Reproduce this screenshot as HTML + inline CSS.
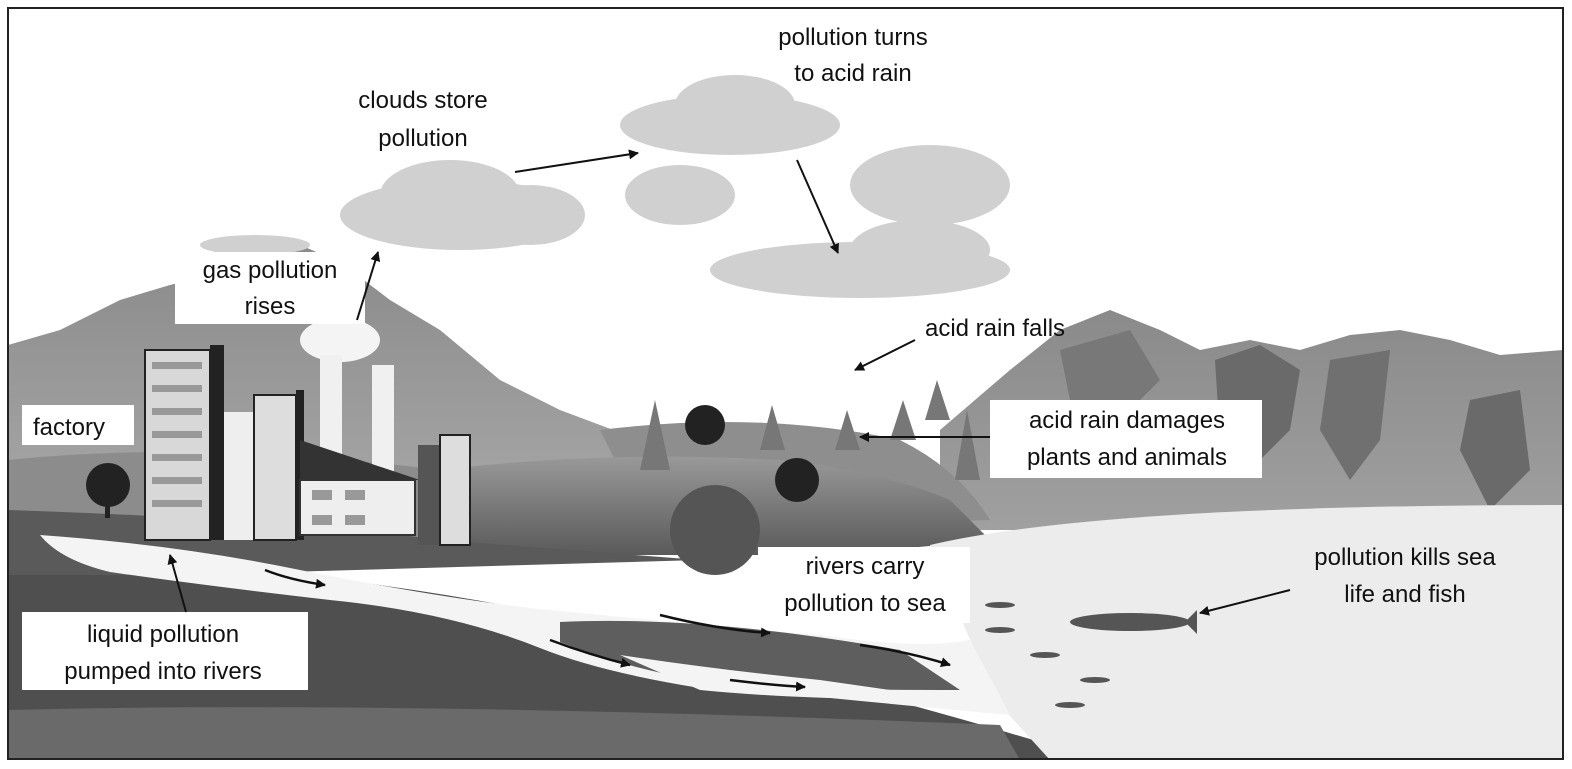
<!DOCTYPE html>
<html><head><meta charset="utf-8"><style>
html,body{margin:0;padding:0;background:#fff}
svg{display:block}
text{font-family:"Liberation Sans",Arial,sans-serif;font-size:24px;fill:#111}
</style></head><body>
<svg width="1572" height="769" viewBox="0 0 1572 769">
<defs>
<marker id="a" markerWidth="10" markerHeight="10" refX="9" refY="5" orient="auto" markerUnits="userSpaceOnUse"><path d="M0,0 L10,5 L0,10 z" fill="#111"/></marker>
<linearGradient id="mL" x1="0" y1="0" x2="0" y2="1"><stop offset="0" stop-color="#8a8a8a"/><stop offset="1" stop-color="#a8a8a8"/></linearGradient>
<linearGradient id="mR" x1="0" y1="0" x2="0" y2="1"><stop offset="0" stop-color="#8a8a8a"/><stop offset="1" stop-color="#a0a0a0"/></linearGradient>
<linearGradient id="hl" x1="0" y1="0" x2="0" y2="1"><stop offset="0" stop-color="#999"/><stop offset="1" stop-color="#5a5a5a"/></linearGradient>
</defs>
<rect x="0" y="0" width="1572" height="769" fill="#fff"/>
<!-- left mountains -->
<path d="M8,345 L60,330 L120,300 L170,285 L230,270 L300,245 L340,262 L390,300 L440,330 L500,380 L560,410 L640,440 L700,460 L700,520 L8,520 Z" fill="url(#mL)"/>
<!-- right mountains -->
<path d="M940,430 L1010,370 L1060,330 L1110,310 L1160,330 L1200,350 L1250,340 L1300,350 L1350,335 L1400,330 L1450,340 L1500,355 L1563,350 L1563,530 L940,530 Z" fill="url(#mR)"/>
<path d="M1215,360 L1260,345 L1300,370 L1290,430 L1250,470 L1220,440 Z" fill="#6a6a6a"/>
<path d="M1330,360 L1390,350 L1380,440 L1350,480 L1320,430 Z" fill="#707070"/>
<path d="M1470,400 L1520,390 L1530,470 L1490,510 L1460,450 Z" fill="#6a6a6a"/>
<path d="M1060,350 L1130,330 L1160,380 L1120,420 L1070,400 Z" fill="#787878"/>
<!-- hills -->
<path d="M8,460 Q200,440 440,470 L440,560 L8,560 Z" fill="#8c8c8c"/>
<path d="M600,430 Q760,410 900,440 Q960,470 990,520 L650,530 Z" fill="#8e8e8e"/>
<path d="M440,470 Q600,450 780,460 Q880,470 950,500 L990,540 Q900,550 800,555 L440,555 Z" fill="url(#hl)"/>
<path d="M8,510 Q300,520 440,540 L700,560 L8,580 Z" fill="#5a5a5a"/>
<!-- ground -->
<path d="M8,575 L300,575 Q520,600 700,650 Q900,700 1050,745 L1050,760 L8,760 Z" fill="#4f4f4f"/>
<path d="M8,710 Q400,700 1000,725 L1020,760 L8,760 Z" fill="#6a6a6a"/>
<!-- sea -->
<path d="M930,545 Q1100,505 1563,505 L1563,760 L1050,760 L1000,705 Q960,620 930,545 Z" fill="#ececec"/>
<!-- river -->
<path d="M40,535 Q180,545 300,570 Q450,600 550,610 Q700,625 820,635 Q920,650 970,640 L1010,715 Q900,705 800,695 L700,688 Q600,672 540,648 Q450,612 330,600 Q200,585 110,572 Q60,560 40,535 Z" fill="#f4f4f4"/>
<path d="M560,622 Q700,615 900,650 L960,690 Q850,690 760,688 Q650,678 560,642 Z" fill="#5e5e5e"/>
<path d="M620,655 Q720,670 820,680 L960,700 Q800,700 700,690 Z" fill="#f4f4f4"/>
<!-- trees -->
<circle cx="108" cy="485" r="22" fill="#222"/><rect x="105" y="500" width="5" height="18" fill="#222"/>
<circle cx="705" cy="425" r="20" fill="#222"/>
<circle cx="797" cy="480" r="22" fill="#222"/>
<ellipse cx="715" cy="530" rx="45" ry="45" fill="#555"/>
<g fill="#777"><path d="M640,470 L655,400 L670,470Z"/><path d="M760,450 L772,405 L785,450Z"/><path d="M835,450 L847,410 L860,450Z"/><path d="M890,440 L903,400 L916,440Z"/><path d="M925,420 L937,380 L950,420Z"/><path d="M955,480 L967,410 L980,480Z"/></g>
<!-- factory -->
<ellipse cx="340" cy="340" rx="40" ry="22" fill="#f4f4f4"/>
<rect x="320" y="355" width="22" height="100" fill="#f0f0f0"/>
<rect x="372" y="365" width="22" height="110" fill="#f0f0f0"/>
<rect x="145" y="350" width="65" height="190" fill="#d8d8d8" stroke="#222" stroke-width="2"/>
<rect x="210" y="345" width="14" height="195" fill="#222"/>
<g fill="#999"><rect x="152" y="362" width="50" height="7"/><rect x="152" y="385" width="50" height="7"/><rect x="152" y="408" width="50" height="7"/><rect x="152" y="431" width="50" height="7"/><rect x="152" y="454" width="50" height="7"/><rect x="152" y="477" width="50" height="7"/><rect x="152" y="500" width="50" height="7"/></g>
<rect x="224" y="412" width="30" height="128" fill="#eee"/>
<rect x="254" y="395" width="42" height="145" fill="#ddd" stroke="#222" stroke-width="2"/>
<rect x="296" y="390" width="8" height="150" fill="#222"/>
<path d="M300,440 L420,480 L300,480 Z" fill="#333"/>
<rect x="300" y="480" width="115" height="55" fill="#eee" stroke="#333" stroke-width="2"/>
<g fill="#999"><rect x="312" y="490" width="20" height="10"/><rect x="345" y="490" width="20" height="10"/><rect x="312" y="515" width="20" height="10"/><rect x="345" y="515" width="20" height="10"/></g>
<rect x="418" y="445" width="22" height="100" fill="#555"/>
<rect x="440" y="435" width="30" height="110" fill="#ddd" stroke="#222" stroke-width="2"/>
<!-- clouds -->
<g fill="#d0d0d0">
<ellipse cx="460" cy="215" rx="120" ry="35"/><ellipse cx="450" cy="195" rx="70" ry="35"/><ellipse cx="530" cy="215" rx="55" ry="30"/>
<ellipse cx="730" cy="125" rx="110" ry="30"/><ellipse cx="735" cy="105" rx="60" ry="30"/>
<ellipse cx="680" cy="195" rx="55" ry="30"/>
<ellipse cx="930" cy="185" rx="80" ry="40"/>
<ellipse cx="860" cy="270" rx="150" ry="28"/><ellipse cx="920" cy="250" rx="70" ry="30"/>
<ellipse cx="255" cy="245" rx="55" ry="10"/>
</g>
<!-- fish -->
<ellipse cx="1130" cy="622" rx="60" ry="9" fill="#555"/>
<path d="M1185,622 L1197,610 L1197,634Z" fill="#555"/>
<g fill="#555"><ellipse cx="1000" cy="605" rx="15" ry="3"/><ellipse cx="1000" cy="630" rx="15" ry="3"/><ellipse cx="1045" cy="655" rx="15" ry="3"/><ellipse cx="1095" cy="680" rx="15" ry="3"/><ellipse cx="1070" cy="705" rx="15" ry="3"/></g>
<!-- river arrows -->
<g stroke="#111" stroke-width="2.5" fill="none" marker-end="url(#a)">
<path d="M265,570 Q290,580 325,585"/><path d="M660,615 Q720,630 770,633"/><path d="M550,640 Q590,655 630,665"/><path d="M860,645 Q910,652 950,665"/><path d="M730,680 Q770,685 805,687"/>
</g>
<!-- label boxes -->
<g fill="#fff">
<rect x="175" y="252" width="190" height="72"/>
<rect x="22" y="405" width="112" height="40"/>
<rect x="990" y="400" width="272" height="78"/>
<rect x="758" y="547" width="212" height="76"/>
<rect x="22" y="612" width="286" height="78"/>
</g>
<!-- arrows -->
<g stroke="#111" stroke-width="2" marker-end="url(#a)">
<line x1="515" y1="172" x2="638" y2="153"/>
<line x1="797" y1="160" x2="838" y2="253"/>
<line x1="357" y1="320" x2="378" y2="252"/>
<line x1="915" y1="340" x2="855" y2="370"/>
<line x1="990" y1="437" x2="860" y2="437"/>
<line x1="1290" y1="590" x2="1200" y2="613"/>
<line x1="186" y1="612" x2="170" y2="555"/>
</g>
<!-- text -->
<g text-anchor="middle">
<text x="423" y="108">clouds store</text><text x="423" y="146">pollution</text>
<text x="853" y="45">pollution turns</text><text x="853" y="81">to acid rain</text>
<text x="270" y="278">gas pollution</text><text x="270" y="314">rises</text>
<text x="995" y="336">acid rain falls</text>
<text x="69" y="435">factory</text>
<text x="1127" y="428">acid rain damages</text><text x="1127" y="465">plants and animals</text>
<text x="865" y="574">rivers carry</text><text x="865" y="611">pollution to sea</text>
<text x="1405" y="565">pollution kills sea</text><text x="1405" y="602">life and fish</text>
<text x="163" y="642">liquid pollution</text><text x="163" y="679">pumped into rivers</text>
</g>
<rect x="8" y="8" width="1555" height="751" fill="none" stroke="#222" stroke-width="2"/>
</svg>
</body></html>
